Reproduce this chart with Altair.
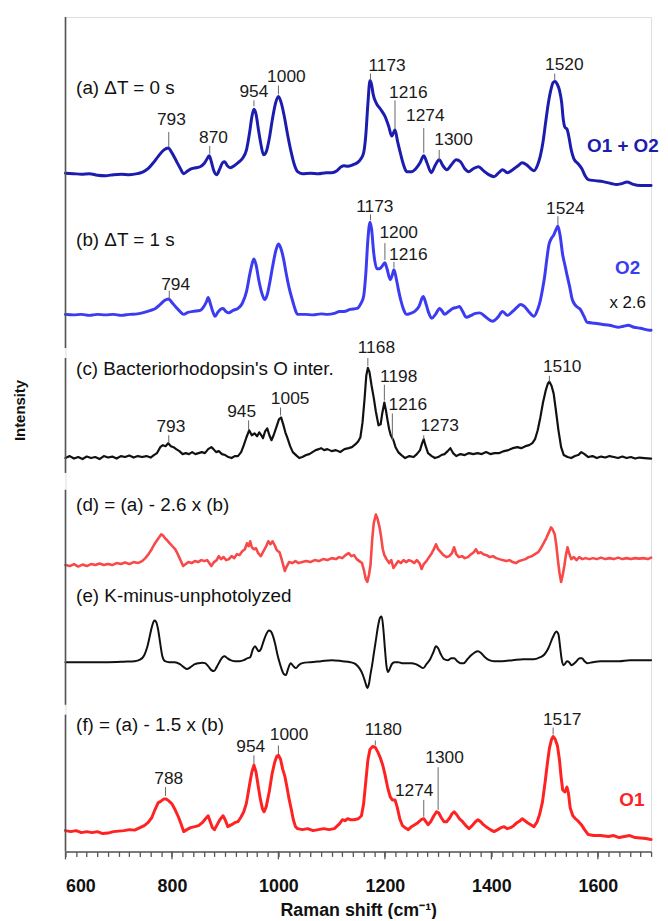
import altair as alt
import pandas as pd

# ---------------- spectra: (wavenumber, height above own baseline) ----------------
SPEC_A = [(600,0.5),(615,0),(630,-0.5),(645,0),(660,-1.5),(675,-2),(690,-1),(705,-0.5),(720,-1),(735,0),
(745,1.5),(755,5),(765,11),(775,18),(785,24),(793,26),(800,21),(808,13),(815,6),(822,0),(830,3),(837,5),
(845,6),(853,7),(860,10),(865,14),(870,18),(874,12),(878,4),(884,-1),(890,5),(895,11),(899,12),(904,8),
(910,6),(917,8),(924,11),(932,15),(940,24),(946,42),(950,57),(954,65),(958,60),(962,46),(967,30),(972,19),
(977,22),(983,36),(989,56),(995,72),(1000,78),(1005,72),(1011,58),(1017,40),(1023,24),(1030,9),(1036,2),
(1045,0),(1060,0.5),(1075,0),(1090,1),(1100,1),(1110,3),(1118,7),(1123,8),(1130,7.5),(1140,9),(1148,11),
(1155,15),(1160,21),(1164,38),(1168,70),(1172,94),(1175,90),(1178,80),(1184,71),(1192,65),(1200,58),
(1207,48),(1213,38),(1219,44),(1224,32),(1229,21),(1235,9),(1241,2),(1250,2),(1258,5),(1266,11),(1273,18),
(1279,11),(1287,1),(1295,9),(1302,14),(1309,8),(1316,4),(1325,9),(1334,14),(1342,12),(1350,5),(1357,2),
(1366,5),(1376,7),(1385,3),(1395,-1),(1405,-3),(1414,1),(1421,4),(1430,1),(1440,4),(1450,8),(1458,11),
(1466,9),(1474,5),(1480,3),(1487,9),(1492,18),(1497,32),(1502,52),(1507,71),(1512,85),(1516,92),(1520,93),
(1524,90),(1528,84),(1532,72),(1535,55),(1538,47),(1542,45),(1546,36),(1550,24),(1555,15),(1563,10),
(1570,5),(1576,-2),(1582,-6),(1595,-7),(1610,-8),(1625,-10),(1635,-11),(1645,-10),(1655,-8.5),(1665,-10.5),
(1680,-12),(1700,-12)]

SPEC_B = [(600,0),(615,-0.5),(630,0),(645,-1),(660,0),(675,-0.5),(690,0),(705,-1),(720,0),(735,0.5),
(748,2),(760,4),(769,6),(778,10),(786,14),(794,15.5),(800,12),(808,7),(815,3),(822,0),(830,2),(840,3),
(853,4),(860,8),(865,13),(868,17),(872,11),(876,4),(881,-2),(886,2),(891,5),(896,6),(901,3),(906,1.5),
(915,4),(924,6),(932,11),(940,23),(946,40),(951,52),(954,56),(958,50),(963,35),(968,23),(974,15),(979,20),
(983,30),(989,48),(995,64),(1000,71),(1005,66),(1010,55),(1014,43),(1020,27),(1027,13),(1032,4),(1036,0),
(1050,0),(1065,-0.5),(1080,0.5),(1092,0),(1105,1),(1115,3),(1123,3),(1135,5),(1148,6),(1155,11),(1160,18),
(1164,40),(1168,75),(1172,93),(1175,86),(1179,62),(1185,46),(1190,46),(1194,48),(1200,52),(1204,46),
(1210,35),(1214,40),(1217,45),(1221,37),(1225,26),(1230,14),(1235,5),(1241,0),(1248,1),(1256,3),(1264,8),
(1272,18),(1277,11),(1282,2),(1288,-4),(1295,0),(1303,6),(1308,3),(1312,0),(1320,3),(1328,6),(1335,7),
(1340,8),(1346,3),(1353,-3),(1362,-1),(1370,1),(1378,1.5),(1390,-3),(1402,-7),(1412,-3),(1421,3),(1430,-1),
(1440,3),(1448,7),(1455,10),(1462,8),(1470,3),(1480,-2),(1487,5),(1492,14),(1496,25),(1500,38),(1504,55),
(1508,70),(1512,76),(1517,80),(1521,85),(1525,89),(1529,80),(1534,60),(1538,50),(1542,40),(1547,28),
(1552,15),(1558,9),(1567,5),(1574,-2),(1580,-8),(1595,-9),(1607,-10),(1622,-11),(1638,-13),(1648,-12),
(1657,-11),(1668,-13),(1680,-14),(1697,-16),(1700,-16)]

SPEC_C = [(600,-1),(608,1),(616,-1.5),(624,0),(632,-2),(640,0.5),(648,-1),(656,0),(664,-2),(672,1),
(680,-0.5),(688,0.5),(696,-1.5),(704,1),(712,0),(720,1.5),(728,-0.5),(736,1),(744,0),(752,1),(760,-0.5),
(766,2),(772,4),(778,10),(783,12),(788,11),(793,14),(798,11),(803,10),(808,8),(814,6),(820,3),(826,4),
(832,3),(838,5),(844,3),(850,4),(856,5),(862,4),(868,8),(874,10),(878,8),(883,5),(888,6),(894,3),(900,2),
(906,0),(912,-1),(918,1),(924,1),(930,5),(935,12),(940,20),(945,27),(950,22),(955,24),(960,21),(964,25),
(968,22),(971,19),(975,26),(979,29),(983,22),(987,17),(991,22),(996,30),(1001,38),(1005,40),(1009,33),
(1013,25),(1017,19),(1022,11),(1027,5),(1033,2),(1039,-1),(1045,0),(1052,2),(1058,3),(1064,5),(1070,7),
(1076,8),(1080,9),(1086,7),(1092,8),(1100,6),(1108,7),(1116,5),(1124,8),(1132,9),(1138,10),(1145,13),
(1150,16),(1154,20),(1158,35),(1162,60),(1165,82),(1168,90),(1171,86),(1175,72),(1179,60),(1183,46),
(1188,32),(1192,33),(1195,44),(1199,55),(1202,47),(1205,37),(1208,28),(1211,22),(1216,17),(1220,10),
(1225,5),(1231,2),(1238,-1),(1246,1),(1254,0),(1260,3),(1266,7),(1270,14),(1273,18),(1276,12),(1281,4),
(1288,1),(1294,-1),(1300,0),(1306,2),(1312,3),(1318,6),(1323,9),(1328,4),(1334,1),(1342,3),(1350,2),
(1358,4),(1366,3),(1374,4),(1382,3),(1390,5),(1398,3),(1406,4),(1415,4),(1424,6),(1432,7),(1440,9),
(1449,10),(1456,9),(1464,11),(1471,12),(1477,14),(1482,18),(1487,27),(1492,40),(1497,55),(1502,67),
(1506,74),(1509,76),(1513,72),(1517,64),(1521,48),(1526,27),(1531,10),(1536,2),(1543,0),(1550,-1),
(1557,1),(1563,2),(1569,5),(1575,3),(1582,0),(1590,1),(1598,-1),(1606,0.5),(1614,-0.5),(1622,1),(1630,0),
(1638,-1),(1646,0.5),(1654,-1),(1662,0),(1670,-1.5),(1678,-0.5),(1688,-1),(1700,-1.5)]

SPEC_D = [(600,0),(608,-1),(616,1),(624,-1.5),(632,0.5),(640,-1),(648,1),(656,0),(664,1.5),(672,0),
(680,1),(688,0),(696,2),(704,1),(712,2.5),(720,1),(728,3),(736,2),(744,4),(750,7),(756,11),(762,16),
(767,21),(772,25),(776,28),(780,31),(783,30),(787,27),(791,25),(796,22),(801,19),(806,16),(811,11),(816,5),
(821,-1),(826,1),(831,3),(837,2),(843,4),(849,3),(855,5),(861,4),(866,5),(870,2),(874,-1),(879,3),(884,5),
(888,9),(892,6),(897,8),(902,5),(907,6),(912,9),(917,7),(922,11),(927,10),(932,14),(937,16),(941,22),
(944,19),(947,24),(950,18),(954,16),(958,17),(962,12),(967,9),(972,14),(977,19),(981,24),(985,21),(989,24),
(993,20),(997,15),(1002,13),(1006,6),(1009,0),(1012,-6),(1015,-2),(1020,3),(1026,2),(1032,4),(1038,2),
(1045,3),(1052,4),(1060,3),(1068,5),(1076,4),(1084,6),(1092,5),(1100,7),(1108,6),(1114,8),(1120,7),
(1126,10),(1132,12),(1137,9),(1142,10),(1147,6),(1152,4),(1157,2),(1161,-6),(1164,-14),(1167,-17),
(1170,-10),(1173,0),(1176,25),(1179,42),(1183,51),(1186,47),(1190,38),(1193,28),(1196,16),(1199,10),
(1203,6),(1208,2),(1212,5),(1216,-3),(1220,0),(1225,4),(1230,2),(1235,5),(1240,3),(1245,5),(1250,4),
(1255,2),(1260,5),(1265,2),(1269,-4),(1273,1),(1278,4),(1283,8),(1288,12),(1292,16),(1296,21),(1300,16),
(1305,13),(1310,10),(1316,8),(1321,9),(1326,12),(1330,18),(1334,11),(1339,8),(1345,9),(1350,7),(1356,8),
(1362,11),(1367,13),(1371,16),(1375,12),(1380,13),(1385,11),(1391,10),(1397,8),(1403,9),(1409,7),(1415,6),
(1421,5),(1428,4),(1434,5),(1440,3),(1446,2),(1452,4),(1458,5),(1464,6),(1470,8),(1476,9),(1482,11),
(1488,13),(1493,17),(1498,22),(1503,27),(1508,33),(1512,38),(1515,36),(1519,31),(1522,20),(1525,5),
(1528,-8),(1531,-17),(1534,-10),(1537,-1),(1540,10),(1543,18),(1546,12),(1550,6),(1555,8),(1560,5),
(1565,8),(1571,6),(1577,7),(1584,6),(1591,7),(1598,6),(1606,7.5),(1614,6),(1622,7),(1630,6),(1638,7.5),
(1646,6),(1654,7),(1662,6),(1670,7),(1678,6.5),(1686,7),(1694,6),(1700,7.5)]

SPEC_E = [(600,0),(640,0),(680,0),(710,0.5),(730,1),(740,2.5),(748,7),(754,16),(759,28),(763,37),(767,42),
(770,41),(774,33),(778,19),(782,6),(787,1),(795,0),(805,0),(815,-2),(822,-5),(828,-7),(835,-5),(843,-2),
(850,-1),(857,-0.5),(862,-1),(868,-4),(874,-8),(879,-9),(884,-5),(890,1),(895,5),(899,6),(904,4),(910,2),
(918,1),(927,1),(935,2),(942,4),(947,5),(952,13),(956,16),(959,14),(963,11),(967,13),(972,21),(977,28),
(982,32),(986,31),(990,26),(994,18),(998,8),(1002,0),(1006,-7),(1010,-12),(1014,-13),(1018,-7),(1023,-1),
(1028,-4),(1033,-6),(1038,-3),(1045,-1),(1060,0),(1080,1),(1100,2),(1120,1),(1135,0),(1145,-2),(1152,-6),
(1158,-12),(1163,-20),(1167,-26),(1170,-22),(1173,-12),(1176,-3),(1179,8),(1183,22),(1187,36),(1191,45),
(1194,46),(1197,34),(1200,14),(1203,-4),(1206,-10),(1209,-7),(1213,-2),(1218,0),(1225,0),(1232,-1),
(1240,-1),(1250,-1),(1258,-2),(1265,-4),(1272,-6),(1278,-2),(1285,3),(1291,10),(1296,16),(1300,14),
(1305,8),(1311,3),(1318,2),(1325,4),(1330,4),(1336,1),(1342,-1),(1348,-1),(1355,3),(1362,7),(1369,10),
(1375,11),(1381,9),(1388,5),(1396,2),(1405,1),(1420,1),(1440,2),(1460,3),(1480,3),(1492,5),(1500,8),
(1507,14),(1513,22),(1518,28),(1522,31),(1526,28),(1529,16),(1532,3),(1535,-3),(1538,-2),(1542,1),
(1546,0),(1550,-3),(1554,-2),(1560,1),(1566,4),(1570,4),(1575,1),(1580,-1),(1590,0),(1605,1),(1620,1),
(1640,1),(1660,2),(1680,2),(1700,2)]

SPEC_F = [(600,1),(610,0),(620,1),(630,-1),(640,0),(650,-1),(660,0),(670,-2),(680,-1.5),(690,0),(700,0.5),
(710,1),(720,2),(730,1.5),(740,4),(748,6),(755,9),(762,14),(768,22),(774,29),(780,31),(785,33),(789,33),
(794,31),(800,28),(806,22),(812,15),(817,8),(822,0),(828,2),(835,4),(843,5),(850,6),(857,9),(863,13),
(868,16),(872,10),(876,4),(880,2),(884,6),(890,12),(896,16),(900,12),(905,5),(912,7),(918,9),(924,10),
(930,15),(935,20),(940,29),(945,45),(950,60),(954,67),(958,60),(962,46),(966,33),(970,23),(973,20),
(977,25),(983,41),(988,58),(993,70),(997,76),(1000,77),(1004,73),(1008,63),(1012,56),(1016,45),(1020,33),
(1024,23),(1028,12),(1032,5),(1036,3),(1045,2),(1055,3),(1065,1),(1075,2),(1085,3),(1095,2),(1105,3),
(1115,8),(1120,12),(1125,11),(1130,13),(1135,12),(1142,12),(1150,13),(1156,16),(1160,28),(1164,50),
(1168,72),(1172,83),(1177,86),(1182,85),(1187,80),(1191,75),(1196,67),(1200,58),(1205,45),(1210,35),
(1214,32),(1219,32),(1223,25),(1228,13),(1233,6),(1238,4),(1244,2),(1250,5),(1256,7),(1262,9),(1268,12),
(1273,13),(1277,10),(1281,7),(1286,10),(1292,16),(1297,20),(1301,19),(1306,14),(1311,10),(1316,10),
(1322,14),(1326,18),(1330,20),(1335,17),(1340,13),(1346,10),(1352,6),(1358,3),(1364,6),(1370,10),
(1375,12),(1380,10),(1385,7),(1390,5),(1398,2),(1405,0),(1412,2),(1418,4),(1424,5),(1430,3),(1436,4),
(1442,6),(1448,9),(1454,11),(1458,13),(1463,11),(1468,9),(1474,7),(1480,5),(1486,10),(1491,18),(1496,30),
(1501,50),(1505,68),(1509,84),(1513,93),(1516,96),(1520,93),(1524,87),(1528,72),(1531,55),(1534,42),
(1538,40),(1542,45),(1545,38),(1548,24),(1553,16),(1558,13),(1564,10),(1569,7),(1575,2),(1582,-3),
(1592,-4),(1605,-4),(1620,-5),(1630,-4),(1640,-6),(1650,-5),(1660,-4),(1670,-6),(1680,-6.5),(1690,-7),
(1700,-8)]

# vertical offsets of each trace (stacked display)
OFFSETS = {"a": 684, "b": 542, "c": 398, "d": 289, "e": 191, "f": 20}

# peak annotations: (label, text wn, text y, tick wn, tick y1, tick y2)
PEAKS = [
    ("793", 799, 738, 794, 726, 711), ("870", 878, 720, 871, 712, 704),
    ("954", 954, 766, 954, 758, 752), ("1000", 1015, 782, 1000, 773, 764),
    ("1173", 1204, 793, 1173, 785, 778), ("1216", 1244, 765, 1219, 758, 729),
    ("1274", 1276, 742, 1273, 730, 705), ("1300", 1329, 718, 1302, 708, 698),
    ("1520", 1537, 794, 1519, 785, 778),
    ("794", 807, 572, 795, 566, 558), ("1173", 1181, 650, 1173, 643, 637),
    ("1200", 1226, 624, 1200, 614, 597), ("1216", 1244, 602, 1217, 595, 589),
    ("1524", 1539, 648, 1525, 641, 632),
    ("793", 798, 428, 794, 420, 412), ("945", 931, 443, 944, 435, 425),
    ("1005", 1022, 457, 1004, 448, 440), ("1168", 1184, 508, 1168, 498, 490),
    ("1198", 1226, 479, 1199, 471, 455), ("1216", 1243, 450, 1214, 442, 415),
    ("1273", 1303, 429, 1273, 420, 416), ("1510", 1533, 489, 1509, 480, 474),
    ("788", 794, 73, 788, 65, 56), ("954", 948, 105, 954, 97, 88),
    ("1000", 1020, 117, 1000, 107, 98), ("1180", 1197, 122, 1182, 112, 107),
    ("1274", 1255, 61, 1273, 52, 35), ("1300", 1312, 94, 1300, 85, 42),
    ("1517", 1533, 133, 1516, 125, 118),
]

SERIES_LABELS = [
    ("(a) ΔT = 0 s", 620, 770), ("(b) ΔT = 1 s", 620, 617),
    ("(c) Bacteriorhodopsin's O inter.", 620, 487), ("(d) = (a) - 2.6 x (b)", 620, 350),
    ("(e) K-minus-unphotolyzed", 620, 258), ("(f) = (a) - 1.5 x (b)", 620, 128),
]

TAGS = [("O1 + O2", 1647, 712, "#1c1cae"), ("O2", 1656, 589, "#3b3bf2"), ("O1", 1664, 52, "#ff2222")]
SCALE_NOTE = [("x 2.6", 1656, 553)]

# broken left axis segments (y1, y2)
AXIS_SEGMENTS = [(842, 508), (498, 382), (365, 148), (138, 0)]

MINOR_TICKS = list(range(600, 1701, 20))
MAJOR_TICKS = list(range(600, 1701, 200))

STYLE = {
    "a": ("#1c1cae", 3.0, "monotone"),
    "b": ("#3b3bf2", 3.0, "monotone"),
    "c": ("#111111", 2.2, "linear"),
    "d": ("#f84848", 2.6, "linear"),
    "e": ("#111111", 2.0, "monotone"),
    "f": ("#ff2222", 3.0, "linear"),
}

FONT = "Liberation Sans"
xscale = alt.Scale(domain=[600, 1700], nice=False, zero=False)
yscale = alt.Scale(domain=[0, 842], nice=False, zero=False)

X_AXIS = alt.Axis(
    values=MINOR_TICKS, format="d",
    labelExpr="datum.value % 200 === 0 ? datum.label : ''",
    tickSize=5, tickColor="#555", tickWidth=1.3, domainColor="#555", domainWidth=1.6,
    labelFont=FONT, labelFontSize=18, labelFontWeight="bold", labelColor="#111",
    labelPadding=21, labelOverlap=False, grid=False,
    title="Raman shift (cm⁻¹)", titleFont=FONT, titleFontSize=18, titleFontWeight="bold",
    titleColor="#111", titlePadding=7,
)
Y_AXIS = alt.Axis(labels=False, ticks=False, domain=False, grid=False, title=None)


def X(field):
    return alt.X(field, type="quantitative", scale=xscale, axis=X_AXIS)


def Y(field):
    return alt.Y(field, type="quantitative", scale=yscale, axis=Y_AXIS)


layers = []
for key, pts in [("a", SPEC_A), ("b", SPEC_B), ("c", SPEC_C),
                 ("d", SPEC_D), ("e", SPEC_E), ("f", SPEC_F)]:
    df = pd.DataFrame(pts, columns=["wn", "h"])
    df["y"] = df["h"] + OFFSETS[key]
    color, w, interp = STYLE[key]
    layers.append(
        alt.Chart(df).mark_line(color=color, strokeWidth=w, interpolate=interp,
                                strokeJoin="round", strokeCap="round").encode(
            x=X("wn"), y=Y("y"))
    )

# longer major ticks below the x axis
mj = pd.DataFrame({"wn": MAJOR_TICKS})
layers.append(
    alt.Chart(mj).mark_rule(color="#555", strokeWidth=1.3).encode(
        x=X("wn"), y=alt.value(842), y2=alt.value(850))
)

seg_df = pd.DataFrame(AXIS_SEGMENTS, columns=["y1", "y2"])
layers.append(
    alt.Chart(seg_df).mark_rule(color="#555", strokeWidth=1.6).encode(
        x=alt.value(0), y=Y("y1"), y2="y2:Q")
)

pk = pd.DataFrame(PEAKS, columns=["label", "tx", "ty", "kx", "k1", "k2"])
layers.append(
    alt.Chart(pk).mark_rule(color="#666", strokeWidth=1).encode(
        x=X("kx"), y=Y("k1"), y2="k2:Q")
)
layers.append(
    alt.Chart(pk).mark_text(font=FONT, fontSize=17.5, color="#1a1a1a", baseline="middle", align="center").encode(
        x=X("tx"), y=Y("ty"), text="label:N")
)

sl = pd.DataFrame(SERIES_LABELS, columns=["label", "tx", "ty"])
layers.append(
    alt.Chart(sl).mark_text(font=FONT, fontSize=19, color="#111", baseline="middle", align="left").encode(
        x=X("tx"), y=Y("ty"), text="label:N")
)

tg = pd.DataFrame(TAGS, columns=["label", "tx", "ty", "col"])
layers.append(
    alt.Chart(tg).mark_text(font=FONT, fontSize=19, fontWeight="bold", baseline="middle", align="center").encode(
        x=X("tx"), y=Y("ty"), text="label:N", color=alt.Color("col:N", scale=None))
)

sn = pd.DataFrame(SCALE_NOTE, columns=["label", "tx", "ty"])
layers.append(
    alt.Chart(sn).mark_text(font=FONT, fontSize=17, color="#111", baseline="middle", align="center").encode(
        x=X("tx"), y=Y("ty"), text="label:N")
)

# y-axis title
layers.append(
    alt.Chart(pd.DataFrame({"t": ["Intensity"]})).mark_text(
        font=FONT, fontSize=15, fontWeight="bold", color="#111", angle=270,
        baseline="middle", align="center").encode(
        x=alt.value(-46), y=alt.value(397), text="t:N")
)

chart = alt.layer(*layers).properties(
    width=591, height=842,
    padding={"left": 58, "top": 5, "right": 9, "bottom": 64},
    autosize=alt.AutoSizeParams(type="none"),
).configure_view(stroke=None).configure(background="white")

chart.save("out.html", embed_options={"renderer": "svg", "actions": False})
